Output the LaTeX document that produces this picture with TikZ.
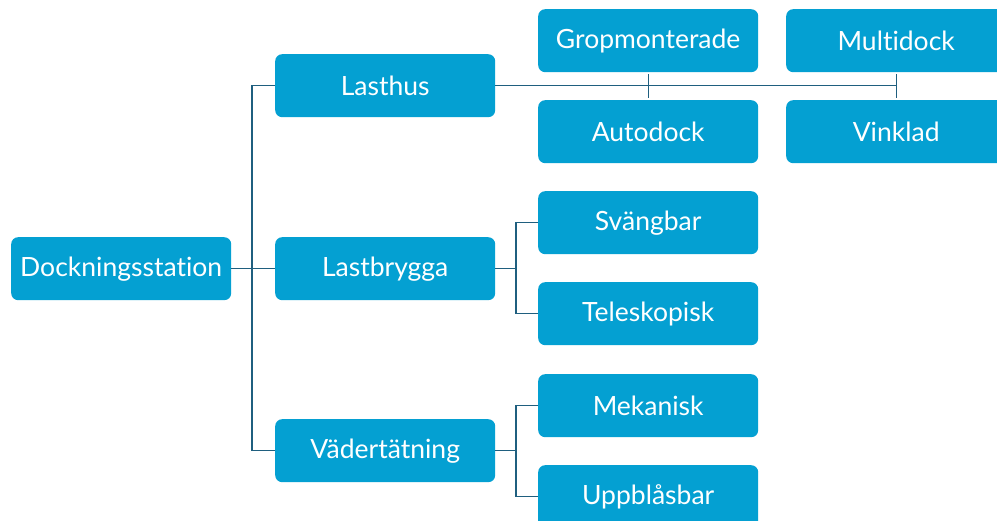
\documentclass[tikz,border=0pt]{standalone}
\usepackage{fontspec}
\setmainfont{Lato}[Ligatures={NoCommon}]
\definecolor{boxfill}{HTML}{04A0D2}
\definecolor{linecol}{HTML}{1F5F7F}
\begin{document}
\begin{tikzpicture}[x=1pt,y=-1pt,
  box/.style={fill=boxfill, draw=none, rounded corners=7pt, minimum width=220pt, minimum height=63pt, inner sep=0pt, text=white, font=\fontsize{26.5}{29}\selectfont, anchor=north west},
  conn/.style={draw=linecol, line width=1.4pt}]
\useasboundingbox (0,0) rectangle (997,521);
\begin{scope}
\clip (0,0) rectangle (997,521);
\node[box] (dock) at (11,237) {Dockningsstation};
\node[box] (lasthus) at (275,54) {Lasthus};
\node[box] (lastb) at (275,237) {Lastbrygga};
\node[box] (vader) at (275,419) {Vädertätning};
\node[box] (grop) at (538,9) {Gropmonterade};
\node[box] (auto) at (538,100) {Autodock};
\node[box] (multi) at (786,9) {Multidock};
\node[box] (vink) at (786,100) {Vinklad};
\node[box] (svang) at (538,191) {Svängbar};
\node[box] (tele) at (538,282) {Teleskopisk};
\node[box] (meka) at (538,374) {Mekanisk};
\node[box] (uppb) at (538,465) {Uppblåsbar};
\end{scope}
% Connectors from root
\coordinate (rootbus) at (252,0);
\draw[conn] (dock.east) -- (dock.east -| rootbus);
\draw[conn] (lasthus.west) -| (rootbus |- vader.west) -- (vader.west);
\draw[conn] (lastb.west) -- (lastb.west -| rootbus);
% Lasthus
\draw[conn] (lasthus.east) -- (lasthus.east -| multi.south);
\draw[conn] ([yshift=-2pt]grop.south) -- ([yshift=2pt]auto.north);
\draw[conn] ([yshift=-2pt]multi.south) -- ([yshift=2pt]vink.north);
% Lastbrygga
\coordinate (bus2) at (516,0);
\draw[conn] (lastb.east) -- (lastb.east -| bus2);
\draw[conn] (svang.west) -| (bus2 |- tele.west) -- (tele.west);
% Vadertatning
\draw[conn] (vader.east) -- (vader.east -| bus2);
\draw[conn] (meka.west) -| (bus2 |- uppb.west) -- (uppb.west);
\end{tikzpicture}
\end{document}
